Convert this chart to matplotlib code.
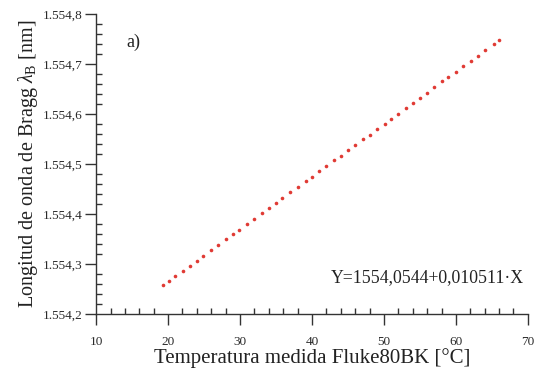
import matplotlib.pyplot as plt
from matplotlib.ticker import MultipleLocator, FuncFormatter

# temperature readings [C] and Bragg wavelength [nm]
temp = [19.3, 20.1, 21.0, 22.1, 23.0, 24.0, 24.9, 26.0, 27.0, 28.1, 29.0, 29.9,
        31.0, 32.0, 33.1, 34.0, 35.0, 35.9, 37.0, 38.0, 39.1, 40.0, 41.0, 42.0,
        43.1, 44.0, 45.0, 46.0, 47.1, 48.0, 49.0, 50.1, 51.0, 52.0, 53.0, 54.1,
        55.0, 56.0, 57.0, 58.1, 58.9, 60.0, 61.0, 62.1, 63.0, 64.1, 65.3, 66.0]
wavelength = [1554.2573, 1554.2657, 1554.2751, 1554.2867, 1554.2962, 1554.3067,
              1554.3161, 1554.3277, 1554.3382, 1554.3498, 1554.3592, 1554.3687,
              1554.3802, 1554.3908, 1554.4023, 1554.4118, 1554.4223, 1554.4317,
              1554.4433, 1554.4538, 1554.4654, 1554.4748, 1554.4854, 1554.4959,
              1554.5074, 1554.5169, 1554.5274, 1554.5379, 1554.5495, 1554.5589,
              1554.5694, 1554.5810, 1554.5905, 1554.6010, 1554.6115, 1554.6230,
              1554.6325, 1554.6430, 1554.6535, 1554.6651, 1554.6735, 1554.6851,
              1554.6956, 1554.7071, 1554.7166, 1554.7282, 1554.7408, 1554.7481]
fit_label = "Y=1554,0544+0,010511·X"

plt.rcParams['font.family'] = ['Liberation Serif', 'DejaVu Serif']
plt.rcParams['mathtext.fontset'] = 'custom'
plt.rcParams['mathtext.rm'] = 'Liberation Serif'
plt.rcParams['mathtext.it'] = 'Liberation Serif:italic'

fig = plt.figure(figsize=(5.37, 3.71), dpi=100)
ax = fig.add_axes([0.179, 0.154, 0.804, 0.808])

ax.plot(temp, wavelength, ls='none', marker='o', ms=2.6, color='#e03a34', mec='none')

ax.set_xlim(10, 70)
ax.set_ylim(1554.2, 1554.8)
ax.xaxis.set_major_locator(MultipleLocator(10))
ax.xaxis.set_minor_locator(MultipleLocator(2))
ax.yaxis.set_major_locator(MultipleLocator(0.1))
ax.yaxis.set_minor_locator(MultipleLocator(0.02))


def fmt_y(v, pos):
    s = f"{v:.1f}".replace(".", ",")
    return s[0] + "." + s[1:]


ax.yaxis.set_major_formatter(FuncFormatter(fmt_y))

for side in ['top', 'right']:
    ax.spines[side].set_visible(False)
for side in ['left', 'bottom']:
    ax.spines[side].set_color('#333333')
    ax.spines[side].set_linewidth(1.0)

ax.tick_params(which='major', direction='out', length=8, width=1, color='#333333',
               labelsize=9.5, labelcolor='#2a2a2a')
ax.tick_params(axis='x', which='major', pad=8)
ax.tick_params(axis='y', which='major', pad=2)
ax.tick_params(which='minor', direction='in', length=4, width=1, color='#333333')

ax.set_xlabel("Temperatura medida Fluke80BK [°C]", fontsize=15, labelpad=0, color='#222222')
ax.set_ylabel(r"Longitud de onda de Bragg $\lambda_{\mathrm{B}}$ [nm]", fontsize=14.5,
              labelpad=2, color='#222222')

ax.text(14.2, 1554.735, "a)", fontsize=13, color='#222222')
ax.text(69.5, 1554.272, fit_label, fontsize=12.8, ha='right', va='center', color='#222222')

fig.savefig("out.png", dpi=100)
